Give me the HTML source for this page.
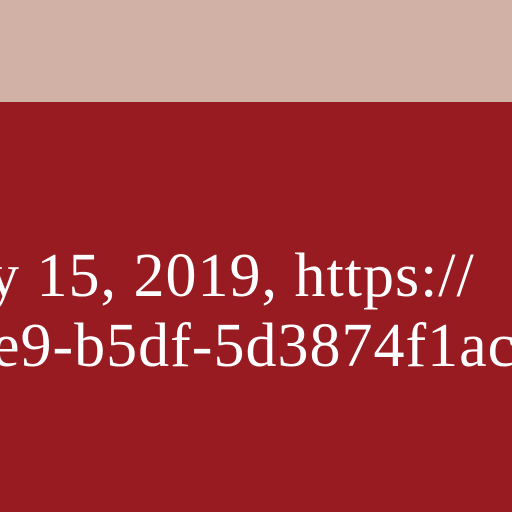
<!DOCTYPE html>
<html><head><style>
html,body{margin:0;padding:0}
body{width:512px;height:512px;overflow:hidden;position:relative;background:#981b21;font-family:"Liberation Serif",serif;color:#fff}
.top{position:absolute;left:0;top:0;width:512px;height:102px;background:#d1b1a5}
.t{position:absolute;font-size:62px;white-space:nowrap;line-height:1;letter-spacing:1px}
</style></head><body>
<div class="top"></div>
<div class="t" style="left:-12px;top:245px">y 15, 2019, https://</div>
<div class="t" style="left:-8px;top:315px">e9-b5df-5d3874f1ac</div>
</body></html>
